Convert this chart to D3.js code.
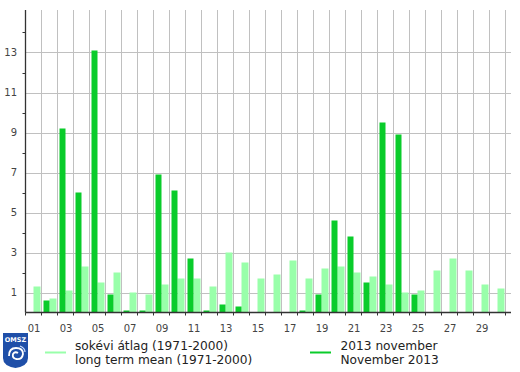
<!DOCTYPE html>
<html><head><meta charset="utf-8">
<script src="https://cdn.jsdelivr.net/npm/d3@7"></script>
<style>body{margin:0;background:#fff}svg{display:block}text{font-family:"DejaVu Sans",Verdana,sans-serif}</style>
</head><body>
<script>
const days = d3.range(1, 31);
const dayLabels = days.map(d => String(d).padStart(2, "0"));
const values2013 = [0,0.6,9.2,6.0,13.1,0.9,0.1,0.1,6.9,6.1,2.7,0.1,0.4,0.3,0,0,0,0.1,0.9,4.6,3.8,1.5,9.5,8.9,0.9,0,0,0,0,0];
const valuesMean = [1.3,0.7,1.1,2.3,1.5,2.0,1.0,0.9,1.4,1.7,1.7,1.3,3.0,2.5,1.7,1.9,2.6,1.7,2.2,2.3,2.0,1.8,1.4,1.0,1.1,2.1,2.7,2.1,1.4,1.2];
const yLabels = [1,3,5,7,9,11,13];
const legendMean = ["sokévi átlag (1971-2000)", "long term mean (1971-2000)"];
const legend2013 = ["2013 november", "November 2013"];
const colDark = "#0acc2b", colLight = "#99ffaa", colGrid = "#c0c0c0", colAxis = "#333";

(function(){
const W = 520, H = 372;
const svg = d3.select("body").append("svg").attr("width", W).attr("height", H);
const pLeft = 25.5, pRight = 511, pTop = 10, pBottom = 312.5;
const x = d3.scaleBand().domain(days).range([pLeft, pLeft + 16 * 30]).padding(0);
const y = d3.scaleLinear().domain([0, 15.125]).range([pBottom, pTop]);

// grid
const g = svg.append("g");
g.selectAll(".hg").data(yLabels).join("line")
  .attr("x1", pLeft).attr("x2", pRight).attr("y1", d => Math.round(y(d)) + 0.5).attr("y2", d => Math.round(y(d)) + 0.5)
  .attr("stroke", colGrid).attr("stroke-width", 1);
g.selectAll(".vg").data(days).join("line")
  .attr("x1", d => x(d) + 16).attr("x2", d => x(d) + 16).attr("y1", pTop).attr("y2", pBottom)
  .attr("stroke", colGrid).attr("stroke-width", 1);

// bars
svg.append("g").selectAll("rect").data(days).join("rect")
  .attr("x", d => x(d) + 8).attr("width", 7)
  .attr("y", (d, i) => y(valuesMean[i])).attr("height", (d, i) => pBottom - y(valuesMean[i]))
  .attr("fill", colLight);
svg.append("g").selectAll("rect").data(days.filter((d, i) => values2013[i] > 0)).join("rect")
  .attr("x", d => x(d) + 2).attr("width", 6)
  .attr("y", d => y(values2013[d - 1])).attr("height", d => pBottom - y(values2013[d - 1]))
  .attr("fill", colDark);

// y axis
const ya = svg.append("g");
ya.append("line").attr("x1", pLeft).attr("x2", pLeft).attr("y1", pTop).attr("y2", pBottom).attr("stroke", colAxis).attr("stroke-width", 1.3);
const minor = d3.range(2, 15, 2);
ya.selectAll(".mt").data(minor).join("line")
  .attr("x1", pLeft - 3).attr("x2", pLeft).attr("y1", d => Math.round(y(d)) + 0.5).attr("y2", d => Math.round(y(d)) + 0.5)
  .attr("stroke", colAxis);
ya.selectAll("text").data(yLabels).join("text")
  .attr("x", 17).attr("y", d => y(d) + 3.6).attr("text-anchor", "end")
  .attr("font-size", 10).attr("fill", "#444").text(d => d);

// x axis
const xa = svg.append("g");
xa.append("line").attr("x1", pLeft).attr("x2", pRight).attr("y1", pBottom).attr("y2", pBottom).attr("stroke", colAxis).attr("stroke-width", 1.3);
xa.selectAll(".xt").data([0].concat(days)).join("line")
  .attr("x1", d => d === 0 ? pLeft : x(d) + 16).attr("x2", d => d === 0 ? pLeft : x(d) + 16)
  .attr("y1", pBottom).attr("y2", pBottom + 3).attr("stroke", colAxis);
xa.selectAll("text").data(days.filter(d => d % 2 === 1)).join("text")
  .attr("x", d => x(d) + 8.5).attr("y", 331.5).attr("text-anchor", "middle")
  .attr("font-size", 10).attr("fill", "#444").text(d => dayLabels[d - 1]);

// legend
const lg = svg.append("g");
lg.append("line").attr("x1", 45).attr("x2", 66).attr("y1", 352.5).attr("y2", 352.5).attr("stroke", colLight).attr("stroke-width", 2);
lg.append("line").attr("x1", 310).attr("x2", 331).attr("y1", 352.5).attr("y2", 352.5).attr("stroke", colDark).attr("stroke-width", 2);
legendMean.forEach((t, i) => lg.append("text").attr("x", 75).attr("y", 349.5 + i * 14).attr("font-size", 12.2).attr("fill", "#222").text(t));
legend2013.forEach((t, i) => lg.append("text").attr("x", 340.5).attr("y", 349.5 + i * 14).attr("font-size", 12.2).attr("fill", "#222").text(t));

// logo
const logo = svg.append("g");
logo.append("path").attr("d", "M3,333 L28,333 L28,358 Q28,366 15.5,368 Q3,366 3,358 Z").attr("fill", "#1f4fa8");
logo.append("text").attr("x", 15.5).attr("y", 341.5).attr("text-anchor", "middle").attr("font-size", 6.5).attr("font-weight", "bold").attr("fill", "#fff").text("OMSZ");
logo.append("path").attr("d", "M9,356 Q9,348 16,348 Q23,348 23,354 Q22,360 16,359 Q12,358 13,354 Q15,351 18,353")
  .attr("fill", "none").attr("stroke", "#fff").attr("stroke-width", 1.8);
logo.append("path").attr("d", "M20,346 Q25,348 25,352").attr("fill", "none").attr("stroke", "#cfe0ff").attr("stroke-width", 1.2);
})();
</script>
</body></html>
